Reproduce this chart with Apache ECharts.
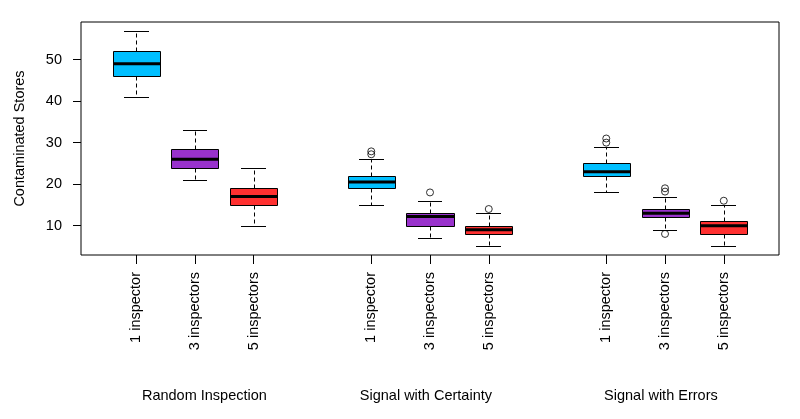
<!DOCTYPE html>
<html>
<head>
<meta charset="utf-8">
<script src="https://cdn.jsdelivr.net/npm/echarts@6/dist/echarts.min.js"></script>
<style>
  html, body { margin: 0; padding: 0; background: #fff; }
  #chart { width: 800px; height: 419px; }
</style>
</head>
<body>
<div id="chart"></div>
<script>
// ---- data ----
const groups = ['Random Inspection', 'Signal with Certainty', 'Signal with Errors'];
const inspectors = ['1 inspector', '3 inspectors', '5 inspectors'];
const whiskerLow  = [41, 21, 10, 15, 7, 5, 18, 9, 5];
const q1          = [46, 24, 15, 19, 10, 8, 22, 12, 8];
const median      = [49, 26, 17, 20.5, 12.2, 9, 23, 13, 10];
const q3          = [52, 28.5, 19, 22, 13, 10, 25, 14, 11];
const whiskerHigh = [57, 33, 24, 26, 16, 13, 29, 17, 15];
// outliers: [box index, value]
const outliers = [[3, 27.2], [3, 27.9], [4, 18], [5, 14], [6, 30], [6, 31], [7, 18.2], [7, 19], [7, 8], [8, 16]];
const yTicks = [10, 20, 30, 40, 50];

// ---- layout helpers ----
const colors = ['#00BFFF', '#9932CC', '#FF3030'];
const boxPos = i => Math.floor(i / 3) * 4 + (i % 3) + 1;
const positions = whiskerLow.map((_, i) => boxPos(i));
const groupLabelAt = [2.16, 5.93, 9.93];
const FONT = '"Liberation Sans", Arial, sans-serif';

const boxData = whiskerLow.map((lo, i) => ({
  value: [positions[i], lo, q1[i], median[i], q3[i], whiskerHigh[i]],
  itemStyle: { color: colors[i % 3] }
}));
const outlierData = outliers.map(([b, v]) => [positions[b], v]);

const chart = echarts.init(document.getElementById('chart'), null, { renderer: 'canvas' });

const snap = v => Math.round(v) + 0.5;

function renderBox(params, api) {
  const x = api.value(0);
  const lo = api.value(1), a = api.value(2), m = api.value(3), b = api.value(4), hi = api.value(5);
  const halfW = 0.4, capW = 0.21;
  const cx = snap(api.coord([x, 0])[0]);
  const left = Math.round(api.coord([x - halfW, 0])[0]) + 0.5;
  const right = Math.round(api.coord([x + halfW, 0])[0]) + 0.5;
  const capL = Math.round(api.coord([x - capW, 0])[0]);
  const capR = Math.round(api.coord([x + capW, 0])[0]);
  const yLo = snap(api.coord([x, lo])[1]);
  const yA = snap(api.coord([x, a])[1]);
  const yM = api.coord([x, m])[1];
  const yB = snap(api.coord([x, b])[1]);
  const yHi = snap(api.coord([x, hi])[1]);
  const color = api.visual('color');
  const dash = { stroke: '#000', lineWidth: 1, lineDash: [4, 3] };
  const solid = { stroke: '#000', lineWidth: 1 };
  return {
    type: 'group',
    children: [
      { type: 'line', shape: { x1: cx, y1: yB, x2: cx, y2: yHi }, style: dash },
      { type: 'line', shape: { x1: cx, y1: yA, x2: cx, y2: yLo }, style: dash },
      { type: 'line', shape: { x1: capL, y1: yHi, x2: capR, y2: yHi }, style: solid },
      { type: 'line', shape: { x1: capL, y1: yLo, x2: capR, y2: yLo }, style: solid },
      { type: 'rect', shape: { x: left, y: yB, width: right - left, height: yA - yB },
        style: { fill: color, stroke: '#000', lineWidth: 1 } },
      { type: 'line', shape: { x1: left, y1: yM, x2: right, y2: yM },
        style: { stroke: '#000', lineWidth: 3 } }
    ]
  };
}

chart.setOption({
  animation: false,
  backgroundColor: '#fff',
  textStyle: { fontFamily: FONT },
  grid: {
    left: 81, right: 21, top: 22, bottom: 164,
    show: true, borderColor: '#000', borderWidth: 1, backgroundColor: 'transparent'
  },
  xAxis: {
    type: 'value', min: 0.06, max: 11.94,
    axisLine: { show: false },
    splitLine: { show: false },
    axisTick: { show: true, length: 9, lineStyle: { color: '#000' }, customValues: positions },
    axisLabel: {
      customValues: positions, rotate: 90, margin: 17,
      color: '#000', fontSize: 14.5, fontFamily: FONT,
      formatter: v => inspectors[positions.indexOf(v) % 3]
    }
  },
  yAxis: {
    type: 'value', min: 2.92, max: 59.08,
    name: 'Contaminated Stores', nameLocation: 'middle', nameGap: 54,
    nameTextStyle: { color: '#000', fontSize: 14.5, fontFamily: FONT },
    axisLine: { show: false },
    splitLine: { show: false },
    axisTick: { show: true, length: 8, lineStyle: { color: '#000' }, customValues: yTicks },
    axisLabel: { customValues: yTicks, margin: 19, color: '#000', fontSize: 14.5, fontFamily: FONT }
  },
  series: [
    { type: 'custom', renderItem: renderBox, encode: { x: 0, y: [1, 2, 3, 4, 5] }, data: boxData, z: 2 },
    { type: 'scatter', data: outlierData, symbol: 'circle', symbolSize: 7, z: 3,
      itemStyle: { color: 'rgba(0,0,0,0)', borderColor: '#000', borderWidth: 1 } }
  ]
});

const gy = 396;
chart.setOption({
  graphic: groups.map((g, i) => ({
    type: 'text',
    x: chart.convertToPixel({ xAxisIndex: 0 }, groupLabelAt[i]),
    y: gy,
    style: { text: g, fill: '#000', font: '14.5px ' + FONT, align: 'center', verticalAlign: 'middle' }
  }))
});
</script>
</body>
</html>
